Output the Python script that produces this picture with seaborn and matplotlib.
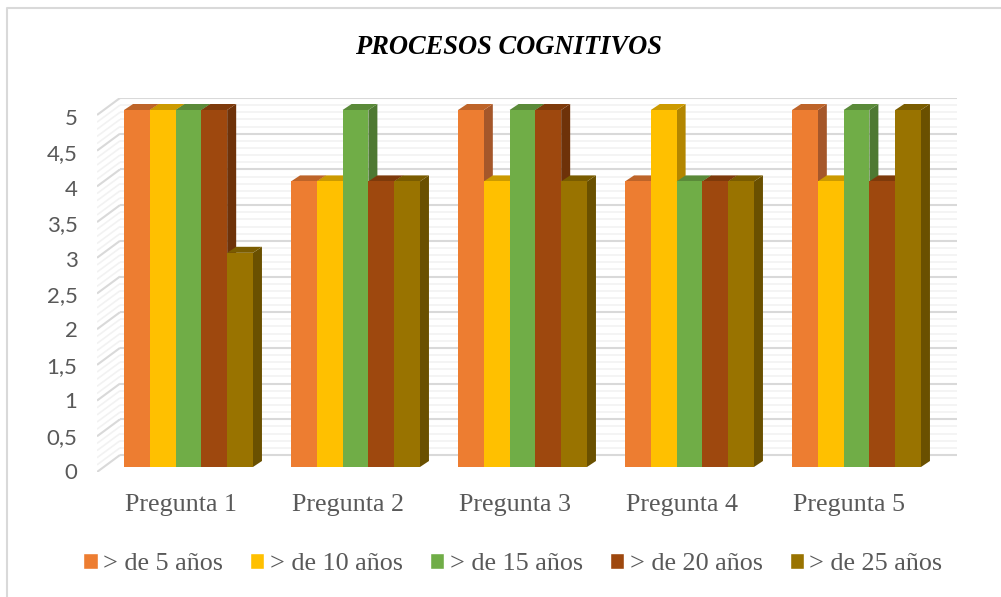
import numpy as np
import pandas as pd
import matplotlib
matplotlib.use('Agg')
import matplotlib.pyplot as plt
import seaborn as sns
from matplotlib.patches import Polygon

preguntas = ['Pregunta 1', 'Pregunta 2', 'Pregunta 3', 'Pregunta 4', 'Pregunta 5']
grupos = ['> de 5 años', '> de 10 años', '> de 15 años', '> de 20 años', '> de 25 años']
v5 = [5, 4, 5, 4, 5]
v10 = [5, 4, 4, 5, 4]
v15 = [5, 5, 5, 4, 5]
v20 = [5, 4, 5, 4, 4]
v25 = [3, 4, 4, 4, 5]
colores = ['#ED7D31', '#FFC000', '#70AD47', '#9E480E', '#997300']
lados = ['#A5572A', '#B38600', '#4E7932', '#6E3209', '#6A5000']
techos = ['#BE6429', '#CC9A00', '#5A8A39', '#7E3A0B', '#7A5C00']
tick_labels = ['0', '0,5', '1', '1,5', '2', '2,5', '3', '3,5', '4', '4,5', '5']

df = pd.DataFrame({'pregunta': preguntas * 5,
                   'grupo': np.repeat(grupos, 5),
                   'valor': v5 + v10 + v15 + v20 + v25})

W, H = 1001, 597
sns.set_theme(style='white')
fig = plt.figure(figsize=(W / 100, H / 100), dpi=100)
fig.patch.set_facecolor('white')

# caja del grafico en pixeles
L, R, T, B = 97, 957, 98, 472
ax = fig.add_axes([L / W, 1 - B / H, (R - L) / W, (B - T) / H])

sns.barplot(data=df, x='pregunta', y='valor', hue='grupo', order=preguntas,
            hue_order=grupos, palette=colores, saturation=1, width=0.772,
            gap=0, ax=ax, zorder=3)

# escalas: 167 px por categoria, 71.4 px por unidad
px_x = 1 / 167
px_y = 1 / 71.4
ax.set_xlim(-0.5 - 8 * px_x, 4.5 + 17 * px_x)
ax.set_ylim(-5 * px_y, 5 + 12 * px_y)
xl = ax.get_xlim()[0]
xr = ax.get_xlim()[1]
xb = xl + 23 * px_x
dy_b = 12 * px_y
dy_f = -5 * px_y

# paredes con rejilla (fondo y lateral)
for v in np.arange(0, 5.01, 0.1):
    mayor = abs(v / 0.5 - round(v / 0.5)) < 1e-6
    c = '#D9D9D9' if mayor else '#F2F2F2'
    lw = 1.5 if mayor else 1.2
    ax.plot([xb, xr], [v + dy_b, v + dy_b], color=c, lw=lw, zorder=1, solid_capstyle='butt')
    ax.plot([xl, xb], [v + dy_f, v + dy_b], color=c, lw=lw, zorder=1, solid_capstyle='butt')

# caras 3D de cada barra
dx = 9 * px_x
dy = 6 * px_y
barras = [p for p in ax.patches if p.get_width() > 0 and p.get_height() > 0]
barras.sort(key=lambda p: p.get_x())
for i, p in enumerate(barras):
    x0 = p.get_x()
    x1 = x0 + p.get_width()
    h = p.get_height()
    k = colores.index(matplotlib.colors.to_hex(p.get_facecolor()).upper())
    z = 3 + i * 0.01
    p.set_zorder(z + 0.002)
    p.set_linewidth(0)
    ax.add_patch(Polygon([(x1, 0), (x1 + dx, dy), (x1 + dx, h + dy), (x1, h)],
                         fc=lados[k], lw=0, zorder=z))
    ax.add_patch(Polygon([(x0, h), (x0 + dx, h + dy), (x1 + dx, h + dy), (x1, h)],
                         fc=techos[k], lw=0, zorder=z + 0.001))

# las etiquetas del eje y no caen justo sobre la rejilla
ax.set_yticks((467 - (471 - 35.4 * np.arange(11))) * px_y, tick_labels)
ax.set_xlabel('')
ax.set_ylabel('')
ax.tick_params(axis='x', length=0, pad=16.2)
ax.tick_params(axis='y', length=0, pad=14)
for t in ax.get_xticklabels():
    t.set_fontfamily('Liberation Serif')
    t.set_fontsize(18.7)
    t.set_color('#595959')
    t.set_transform(t.get_transform() + matplotlib.transforms.Affine2D().translate(-7.5, 0))
for t in ax.get_yticklabels():
    t.set_fontfamily('Lato')
    t.set_fontsize(16)
    t.set_color('#595959')
sns.despine(ax=ax, left=True, bottom=True)
ax.patch.set_alpha(0)

fig.text(509 / W, 1 - 47 / H, 'PROCESOS COGNITIVOS', ha='center', va='center',
         family='Liberation Serif', weight='bold', style='italic', fontsize=19.1, color='black')

handles, labels = ax.get_legend_handles_labels()
ax.legend_.remove()
fig.legend(handles, labels, loc='center', bbox_to_anchor=(513 / W, 1 - 564 / H), ncol=5,
           frameon=False, prop={'family': 'Liberation Serif', 'size': 18.8},
           labelcolor='#595959', handlelength=0.54, handleheight=0.54, handletextpad=0.22,
           columnspacing=1.03, borderpad=0)

# borde exterior del grafico: solo arriba y a la izquierda
fig.add_artist(plt.Line2D([6.5 / W, 6.5 / W, 1], [0, 1 - 7.5 / H, 1 - 7.5 / H],
                          transform=fig.transFigure, color='#D9D9D9', lw=1.5))

fig.savefig('out.png', dpi=100)
